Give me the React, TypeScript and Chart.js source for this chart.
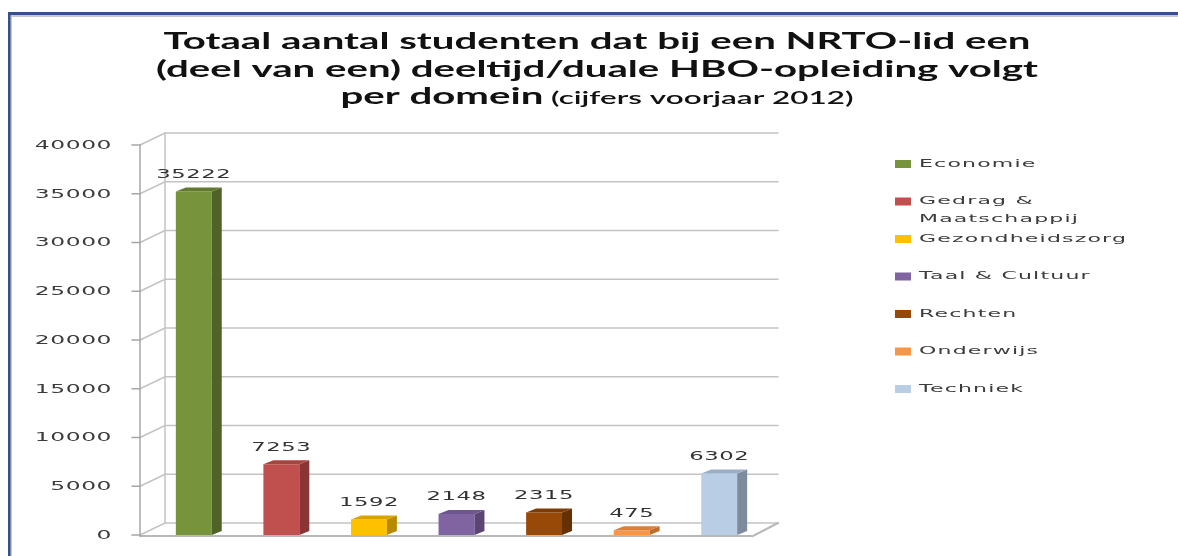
import { useEffect, useRef } from 'react';
import { Chart, registerables } from 'chart.js';

Chart.register(...registerables);

// ---- data ----
const categories = [
  'Economie',
  'Gedrag & Maatschappij',
  'Gezondheidszorg',
  'Taal & Cultuur',
  'Rechten',
  'Onderwijs',
  'Techniek',
];
const students = [35222, 7253, 1592, 2148, 2315, 475, 6302];
const yMin = 0;
const yMax = 40000;
const yStep = 5000;

const titleLine1 = 'Totaal aantal studenten dat bij een NRTO-lid een';
const titleLine2 = '(deel van een) deeltijd/duale HBO-opleiding volgt';
const titleLine3Main = 'per domein';
const titleLine3Sub = ' (cijfers voorjaar 2012)';

// ---- styles ----
const frontColors = ['#77933C', '#C0504D', '#FFC000', '#8064A2', '#984807', '#F79646', '#B9CDE5'];
const sideColors = ['#4F6228', '#8A3533', '#B88A00', '#5A4575', '#653004', '#C36C28', '#7D8B9C'];
const topColors = ['#627A2F', '#A84340', '#D9A300', '#6D5590', '#7D3B05', '#DD7F37', '#9AAEC6'];

const TEXT_GREY = '#3C3C3C';
const GRID = '#C3C3C3';
const AXIS = '#A6A6A6';

function drawStretched(
  ctx: CanvasRenderingContext2D,
  text: string,
  x: number,
  y: number,
  font: string,
  sx: number,
  align: 'left' | 'center' | 'right',
  color: string,
  spacing: number
) {
  ctx.save();
  ctx.font = font;
  (ctx as any).letterSpacing = spacing + 'px';
  ctx.fillStyle = color;
  ctx.textBaseline = 'middle';
  ctx.textAlign = 'left';
  const w = ctx.measureText(text).width * sx;
  const left = align === 'center' ? x - w / 2 : align === 'right' ? x - w : x;
  ctx.translate(left, y);
  ctx.scale(sx, 1);
  ctx.fillText(text, 0, 0);
  ctx.restore();
  return w;
}

function poly(ctx: CanvasRenderingContext2D, pts: number[][], fill: string) {
  ctx.beginPath();
  ctx.moveTo(pts[0][0], pts[0][1]);
  for (let i = 1; i < pts.length; i++) ctx.lineTo(pts[i][0], pts[i][1]);
  ctx.closePath();
  ctx.fillStyle = fill;
  ctx.fill();
}

const WALL_DX = 25;
const WALL_DY = 12;
const BAR_DX = 10;
const BAR_DY = 4;

const threeD = {
  id: 'threeD',
  beforeDatasetsDraw(chart: any) {
    const { ctx, chartArea, scales } = chart;
    const y = scales.y;
    const fl = chartArea.left - 10;
    const fr = chartArea.right - 10;
    const y0 = y.getPixelForValue(yMin);
    const yT = y.getPixelForValue(yMax);
    ctx.save();
    ctx.lineCap = 'round';
    ctx.strokeStyle = GRID;
    ctx.lineWidth = 1.5;
    for (const t of y.ticks) {
      const py = y.getPixelForValue(t.value);
      ctx.beginPath();
      ctx.moveTo(fl, py);
      ctx.lineTo(fl + WALL_DX, py - WALL_DY);
      ctx.lineTo(fr + WALL_DX, py - WALL_DY);
      ctx.stroke();
    }
    ctx.beginPath();
    ctx.moveTo(fl + WALL_DX, yT - WALL_DY);
    ctx.lineTo(fl + WALL_DX, y0 - WALL_DY);
    ctx.stroke();
    // floor
    ctx.strokeStyle = '#B8B8B8';
    ctx.lineWidth = 2;
    ctx.beginPath();
    ctx.moveTo(fl, y0 + 1);
    ctx.lineTo(fr, y0 + 1);
    ctx.lineTo(fr + WALL_DX, y0 - WALL_DY);
    ctx.stroke();
    // front axis
    ctx.strokeStyle = AXIS;
    ctx.lineWidth = 1.5;
    ctx.beginPath();
    ctx.moveTo(fl, yT);
    ctx.lineTo(fl, y0 + 1);
    ctx.stroke();
    for (const t of y.ticks) {
      const py = y.getPixelForValue(t.value);
      ctx.beginPath();
      ctx.moveTo(fl - 8, py);
      ctx.lineTo(fl, py);
      ctx.stroke();
    }
    ctx.restore();
  },
  afterDatasetsDraw(chart: any) {
    const { ctx } = chart;
    const meta = chart.getDatasetMeta(0);
    ctx.save();
    meta.data.forEach((bar: any, i: number) => {
      const { x, y, base, width } = bar.getProps(['x', 'y', 'base', 'width'], true);
      const l = x - width / 2;
      const r = x + width / 2;
      poly(ctx, [[r, y], [r + BAR_DX, y - BAR_DY], [r + BAR_DX, base - BAR_DY], [r, base]], sideColors[i]);
      poly(ctx, [[l, y], [l + BAR_DX, y - BAR_DY], [r + BAR_DX, y - BAR_DY], [r, y]], topColors[i]);
      drawStretched(ctx, String(students[i]), x, y - 17, '13px "DejaVu Sans"', 1.75, 'center', '#333', 0.3);
    });
    ctx.restore();
  },
  afterDraw(chart: any) {
    const { ctx, chartArea, scales, width } = chart;
    const y = scales.y;
    for (const t of y.ticks) {
      const py = y.getPixelForValue(t.value);
      drawStretched(ctx, String(t.value), chartArea.left - 38, py + 0.5, '13px "DejaVu Sans"', 1.8, 'right', TEXT_GREY, 0.3);
    }
    // legend
    const boxX = 895;
    const textX = 919;
    let ly = 164;
    const legendFont = '11px "DejaVu Sans"';
    const lsx = 2.0;
    const lsp = 0.6;
    categories.forEach((c, i) => {
      const words = c.split(' ');
      const lines: string[] = [];
      let cur = '';
      ctx.save();
      ctx.font = legendFont;
      (ctx as any).letterSpacing = lsp + 'px';
      for (const w of words) {
        const test = cur ? cur + ' ' + w : w;
        if (ctx.measureText(test).width * lsx > 225 && cur) {
          lines.push(cur);
          cur = w;
        } else cur = test;
      }
      lines.push(cur);
      ctx.restore();
      ctx.fillStyle = frontColors[i];
      ctx.fillRect(boxX, ly - 4, 16, 8);
      lines.forEach((ln, k) => {
        drawStretched(ctx, ln, textX, ly + k * 18, legendFont, lsx, 'left', TEXT_GREY, lsp);
      });
      ly += 37.5;
    });
    // title
    const cx = 597;
    const tFont = 'bold 23px Lato';
    const sFont = '600 18px Lato';
    ctx.save();
    ctx.font = tFont;
    const sx = 867 / ctx.measureText(titleLine1).width;
    ctx.restore();
    drawStretched(ctx, titleLine1, cx, 42, tFont, sx, 'center', '#111', 0);
    drawStretched(ctx, titleLine2, cx, 70, tFont, sx, 'center', '#111', 0);
    ctx.save();
    ctx.font = tFont;
    const wMain = ctx.measureText(titleLine3Main).width * sx;
    ctx.font = sFont;
    const wSub = ctx.measureText(titleLine3Sub).width * sx;
    ctx.restore();
    const start = cx - (wMain + wSub) / 2;
    drawStretched(ctx, titleLine3Main, start, 97, tFont, sx, 'left', '#111', 0);
    drawStretched(ctx, titleLine3Sub, start + wMain, 98, sFont, sx, 'left', '#111', 0);
    // frame
    ctx.save();
    ctx.fillStyle = '#C8C8C8';
    ctx.fillRect(10, 15, width - 10, 2);
    ctx.fillRect(10, 15, 2, chart.height - 15);
    ctx.fillStyle = '#34508F';
    ctx.fillRect(8, 12, width - 8, 3);
    ctx.fillRect(8, 12, 2.5, chart.height - 12);
    ctx.restore();
  },
};

export default function App() {
  const ref = useRef<HTMLCanvasElement | null>(null);
  useEffect(() => {
    if (!ref.current) return;
    const chart = new Chart(ref.current, {
      type: 'bar',
      data: {
        labels: categories,
        datasets: [
          {
            label: 'Studenten',
            data: students,
            backgroundColor: frontColors,
            borderWidth: 0,
            barPercentage: 0.41,
            categoryPercentage: 1,
          },
        ],
      },
      options: {
        animation: false,
        responsive: false,
        devicePixelRatio: 1,
        layout: { padding: { left: 150, right: 415, top: 145, bottom: 21 } },
        plugins: {
          legend: { display: false },
          tooltip: { enabled: false },
          title: { display: false },
        },
        scales: {
          x: { display: false, offset: true },
          y: { display: false, min: yMin, max: yMax, ticks: { stepSize: yStep } },
        },
      },
      plugins: [threeD],
    });
    return () => chart.destroy();
  }, []);
  return (
    <div style={{ position: 'fixed', left: 0, top: 0, width: 1178, height: 556, background: '#fff' }}>
      <canvas ref={ref} width={1178} height={556} style={{ width: 1178, height: 556, display: 'block' }} />
    </div>
  );
}
